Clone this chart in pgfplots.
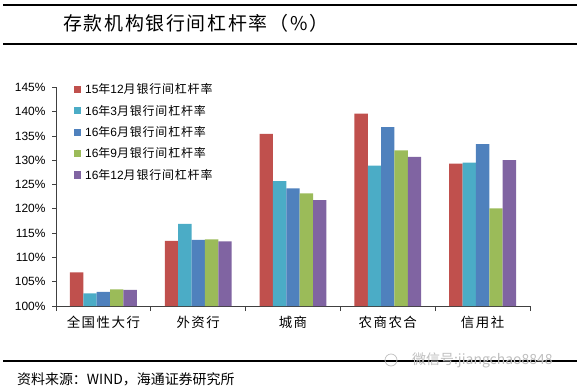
\documentclass[border=0pt]{standalone}
\usepackage{pgfplots}
\pgfplotsset{compat=1.18}
\usepackage{fontspec}
\setmainfont{Liberation Sans}
\newfontfamily\cjk{Noto Sans CJK SC}
\newfontfamily\cjkT[LetterSpace=9]{Noto Sans CJK SC}
\newfontfamily\cjkC[LetterSpace=11]{Noto Sans CJK SC}
\newfontfamily\cjkL[LetterSpace=7]{Noto Sans CJK SC}
\definecolor{cRed}{HTML}{C0504D}
\definecolor{cCyan}{HTML}{4BACC6}
\definecolor{cBlue}{HTML}{4F81BD}
\definecolor{cGreen}{HTML}{9BBB59}
\definecolor{cPurple}{HTML}{8064A2}
\begin{document}
\begin{tikzpicture}
\path[use as bounding box] (0,0) rectangle (580bp,-391bp);
\draw[line width=1.5bp] (3bp,-5bp) -- (577bp,-5bp);
\draw[line width=1.5bp] (3bp,-44bp) -- (577bp,-44bp);
\node[anchor=west, inner sep=0pt, font=\cjkT\fontsize{19}{19}\selectfont] at (63bp,-23bp) {存款机构银行间杠杆率（\%）};
\draw[line width=1.3bp] (3bp,-361bp) -- (577bp,-361bp);
\node[anchor=west, inner sep=0pt, font=\cjk\fontsize{14}{14}\selectfont] at (17bp,-379bp) {资料来源：WIND，海通证券研究所};
\node[anchor=west, inner sep=0pt, text=gray!50, font=\cjk\fontsize{14}{14}\selectfont] at (412bp,-360bp) {微信号:jiangchao8848};
\draw[gray!50, line width=0.7bp] (391bp,-360bp) circle (6bp);
\begin{axis}[
  at={(56bp,-306bp)}, anchor=south west,
  scale only axis, width=474bp, height=218.7bp,
  ymin=100, ymax=145, xmin=-0.5, xmax=4.5,
  axis x line*=bottom, axis y line*=left,
  axis line style={-, line width=0.8bp, black!75},
  ybar,
  ytick={100,105,...,145},
  yticklabel={\pgfmathprintnumber{\tick}\%},
  /pgf/number format/assume math mode=true,
  yticklabel style={font=\fontsize{12}{12}\selectfont, xshift=-3bp},
  xtick={0,1,2,3,4},
  xticklabels={全国性大行,外资行,城商,农商农合,信用社},
  xticklabel style={font=\cjkC\fontsize{13.5}{13.5}\selectfont, yshift=-3bp},
  minor xtick={-0.5,0.5,1.5,2.5,3.5,4.5},
  tick align=outside,
  major tick length=4bp, minor tick length=5bp,
  major x tick style={draw=none},
  tick style={black!75, line width=0.8bp},
  legend image code/.code={\fill[#1] (0bp,-3.5bp) rectangle (7bp,3.5bp);},
  legend cell align=left,
  legend style={draw=none, fill=none, at={(axis description cs:0,1)}, anchor=north west,
    xshift=18bp, yshift=4bp, inner sep=0pt, row sep=9.8bp,
    font=\fontsize{12}{12}\selectfont,
    nodes={inner sep=0pt},
    /tikz/every odd column/.append style={column sep=4bp}},
]
\addplot[fill=cRed, draw=none, bar width=0.141, bar shift=-0.282] coordinates {(0,106.9) (1,113.4) (2,135.4) (3,139.6) (4,129.3)};
\addplot[fill=cCyan, draw=none, bar width=0.141, bar shift=-0.141] coordinates {(0,102.6) (1,116.9) (2,125.7) (3,128.9) (4,129.5)};
\addplot[fill=cBlue, draw=none, bar width=0.141, bar shift=0] coordinates {(0,102.9) (1,113.6) (2,124.2) (3,136.8) (4,133.3)};
\addplot[fill=cGreen, draw=none, bar width=0.141, bar shift=0.141] coordinates {(0,103.4) (1,113.7) (2,123.2) (3,132.0) (4,120.1)};
\addplot[fill=cPurple, draw=none, bar width=0.141, bar shift=0.282] coordinates {(0,103.3) (1,113.3) (2,121.8) (3,130.7) (4,130.0)};
\legend{15{\cjkL 年}12{\cjkL 月银行间杠杆率},16{\cjkL 年}3{\cjkL 月银行间杠杆率},16{\cjkL 年}6{\cjkL 月银行间杠杆率},16{\cjkL 年}9{\cjkL 月银行间杠杆率},16{\cjkL 年}12{\cjkL 月银行间杠杆率}}
\end{axis}
\end{tikzpicture}
\end{document}
